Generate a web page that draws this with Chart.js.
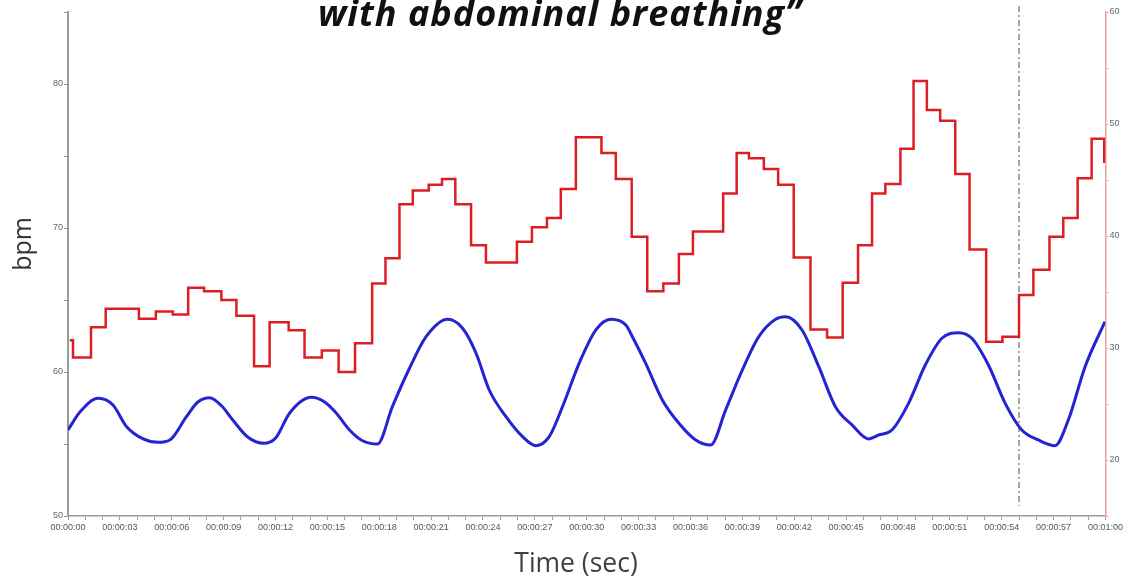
<!DOCTYPE html>
<html>
<head>
<meta charset="utf-8">
<script src="https://cdn.jsdelivr.net/npm/chart.js@4/dist/chart.umd.min.js"></script>
<style>
  html, body { margin: 0; padding: 0; background: #fff; }
  #wrap { position: relative; width: 1125px; height: 577px; overflow: hidden; }
  #chart { position: absolute; left: 0; top: 0; }
  .title { position: absolute; left: 318px; top: -5px; font: italic 700 36px 'Open Sans'; letter-spacing: 1px; line-height: 36px; white-space: nowrap; color: #111; }
  .ylab { position: absolute; left: -11px; top: 229px; width: 60px; height: 30px; line-height: 30px; text-align: center; font: 25px 'Open Sans'; color: #333; transform: rotate(-90deg); }
  .xlab { position: absolute; left: 476px; top: 544px; width: 200px; line-height: 26px; text-align: center; font: 26.5px 'Open Sans'; color: #404040; }
</style>
</head>
<body>
<div id="wrap">
  <canvas id="chart" width="1125" height="577"></canvas>
  <div class="title">with abdominal breathing”</div>
  <div class="ylab">bpm</div>
  <div class="xlab">Time (sec)</div>
</div>
<script>
// heart rate (red, stepped) - time in seconds, value in bpm
const redTimes = [0.1, 0.29, 1.33, 2.18, 4.10, 5.08, 6.06, 6.95, 7.87, 8.87, 9.74, 10.76, 11.66, 12.76, 13.68, 14.68, 15.65,
  16.60, 17.59, 18.36, 19.17, 19.94, 20.86, 21.63, 22.40, 23.31, 24.17, 25.96, 26.83, 27.70, 28.50, 29.37, 30.85, 31.68,
  32.60, 33.50, 34.43, 35.33, 36.14, 37.89, 38.67, 39.38, 40.24, 41.07, 41.97, 42.94, 43.90, 44.80, 45.69, 46.50, 47.27,
  48.14, 48.90, 49.67, 50.44, 51.31, 52.14, 53.10, 54.04, 55.00, 55.83, 56.76, 57.56, 58.39, 59.20, 59.93, 60.0];
const redBpm = [62.2, 61.0, 63.1, 64.4, 63.7, 64.2, 64.0, 65.85, 65.6, 65.0, 63.9, 60.4, 63.45, 62.9, 61.0, 61.5, 60.0,
  62.0, 66.15, 67.9, 71.65, 72.6, 73.0, 73.4, 71.65, 68.8, 67.6, 69.05, 70.05, 70.7, 72.7, 76.3, 75.2, 73.4,
  69.4, 65.6, 66.15, 68.2, 69.75, 72.4, 75.2, 74.85, 74.1, 73.0, 67.95, 62.95, 62.4, 66.2, 68.8, 72.4, 73.05,
  75.5, 80.2, 78.2, 77.45, 73.75, 68.5, 62.1, 62.45, 65.35, 67.1, 69.4, 70.7, 73.45, 76.2, 74.6, 74.6];

// breathing signal (blue, smooth) - right axis
const blueTimes = [0, 0.69, 1.75, 2.60, 3.39, 4.35, 5.20, 5.89, 6.85, 7.51, 8.20, 8.89, 9.53, 10.39, 11.32, 12.01, 12.82,
  14.07, 14.84, 15.51, 16.28, 17.03, 17.90, 18.76, 19.75, 20.71, 21.96, 22.82, 23.60, 24.36, 25.33, 26.29, 27.06, 27.83,
  28.60, 29.56, 30.53, 31.39, 32.26, 32.64, 33.41, 34.37, 35.33, 36.30, 37.17, 38.03, 39.00, 39.95, 40.92, 41.50, 42.45,
  43.42, 44.38, 45.34, 46.30, 46.88, 47.65, 48.61, 49.58, 50.54, 51.50, 52.27, 53.23, 54.20, 55.16, 56.12, 57.08, 57.85,
  58.82, 59.97];
const blueValues = [22.68, 24.29, 25.51, 24.91, 22.97, 21.88, 21.58, 21.79, 23.87, 25.18, 25.56, 24.82, 23.57, 22.05, 21.49, 21.96, 24.20,
  25.60, 25.18, 24.20, 22.68, 21.72, 21.43, 24.76, 28.19, 31.01, 32.56, 31.76, 29.53, 26.25, 23.87, 22.08, 21.28, 22.08,
  24.76, 28.63, 31.61, 32.56, 32.05, 31.01, 28.63, 25.36, 23.28, 21.79, 21.34, 24.46, 28.04, 31.01, 32.56, 32.79, 31.61,
  28.33, 24.76, 23.13, 21.88, 22.23, 22.68, 25.06, 28.48, 30.87, 31.37, 30.87, 28.48, 25.06, 22.68, 21.79, 21.28, 23.57,
  28.33, 32.35];

const xTickSeconds = [0, 3, 6, 9, 12, 15, 18, 21, 24, 27, 30, 33, 36, 39, 42, 45, 48, 51, 54, 57, 60];
const xTickLabels = ['00:00:00', '00:00:03', '00:00:06', '00:00:09', '00:00:12', '00:00:15', '00:00:18', '00:00:21',
  '00:00:24', '00:00:27', '00:00:30', '00:00:33', '00:00:36', '00:00:39', '00:00:42', '00:00:45', '00:00:48',
  '00:00:51', '00:00:54', '00:00:57', '00:01:00'];
const leftTickLabels = [50, 60, 70, 80];
const rightTickLabels = [20, 30, 40, 50, 60];
const markerTime = 55;

const tickFont = { family: 'Liberation Sans', size: 9 };

// dash-dot vertical marker
const markerLine = {
    id: 'markerLine',
    beforeDatasetsDraw(chart) {
        const ctx = chart.ctx;
        const x = chart.scales.x.getPixelForValue(markerTime);
        ctx.save();
        ctx.strokeStyle = '#8a8a8a';
        ctx.lineWidth = 1.5;
        ctx.setLineDash([6, 3, 2, 3]);
        ctx.beginPath();
        ctx.moveTo(x, chart.chartArea.top - 6);
        ctx.lineTo(x, chart.chartArea.bottom - 10);
        ctx.stroke();
        ctx.restore();
    }
};

new Chart(document.getElementById('chart'), {
    type: 'line',
    data: {
        datasets: [{
            label: 'Heart rate',
            data: redTimes.map((t, i) => ({ x: t, y: redBpm[i] })),
            borderColor: 'rgb(220, 30, 36)',
            borderWidth: 2.5,
            pointRadius: 0,
            stepped: true,
            yAxisID: 'y'
        }, {
            label: 'Breathing',
            data: blueTimes.map((t, i) => ({ x: t, y: blueValues[i] })),
            borderColor: 'rgb(36, 36, 210)',
            borderWidth: 3,
            pointRadius: 0,
            cubicInterpolationMode: 'monotone',
            yAxisID: 'y1'
        }]
    },
    options: {
        responsive: false,
        animation: false,
        layout: { padding: { top: 12, left: 0, right: 0, bottom: 0 } },
        plugins: { legend: { display: false }, tooltip: { enabled: false } },
        scales: {
            x: {
                type: 'linear',
                min: 0,
                max: 60,
                afterFit: (scale) => { scale.height = 61; },
                grid: { drawOnChartArea: false, tickLength: 4, color: '#999' },
                border: { color: '#999', width: 1.5 },
                ticks: {
                    stepSize: 1,
                    autoSkip: false,
                    maxRotation: 0,
                    padding: 2,
                    font: tickFont,
                    color: '#555',
                    callback: (v) => {
                        const i = xTickSeconds.indexOf(v);
                        return i >= 0 ? xTickLabels[i] : '';
                    }
                }
            },
            y: {
                position: 'left',
                min: 50,
                max: 85,
                afterFit: (scale) => { scale.width = 68; },
                grid: { drawOnChartArea: false, tickLength: 4, color: '#999' },
                border: { color: '#9a9a9a', width: 2 },
                ticks: {
                    stepSize: 5,
                    padding: 1,
                    font: tickFont,
                    color: '#666',
                    callback: (v) => leftTickLabels.includes(v) ? String(v) : ''
                }
            },
            y1: {
                position: 'right',
                min: 15,
                max: 60,
                afterFit: (scale) => { scale.width = 18; },
                grid: { drawOnChartArea: false, tickLength: 3, color: '#e9a0a0' },
                border: { color: '#e9a0a0', width: 1.5 },
                ticks: {
                    stepSize: 5,
                    padding: 1,
                    font: tickFont,
                    color: '#666',
                    callback: (v) => rightTickLabels.includes(v) ? String(v) : ''
                }
            }
        }
    },
    plugins: [markerLine]
});
</script>
</body>
</html>
